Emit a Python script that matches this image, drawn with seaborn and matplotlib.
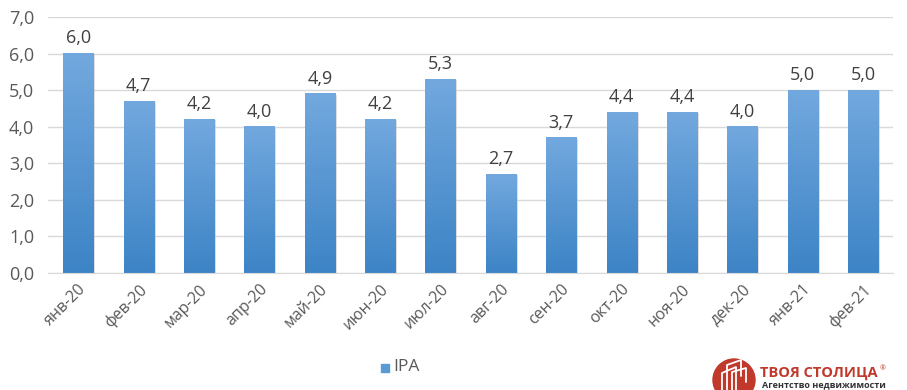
import numpy as np
import pandas as pd
import seaborn as sns
from matplotlib import pyplot as plt
from matplotlib.patches import Ellipse, Rectangle
from matplotlib.lines import Line2D
from matplotlib.colors import LinearSegmentedColormap

months = ['янв-20', 'фев-20', 'мар-20', 'апр-20', 'май-20', 'июн-20', 'июл-20',
          'авг-20', 'сен-20', 'окт-20', 'ноя-20', 'дек-20', 'янв-21', 'фев-21']
ipa = [6.0, 4.7, 4.2, 4.0, 4.9, 4.2, 5.3, 2.7, 3.7, 4.4, 4.4, 4.0, 5.0, 5.0]

sns.set_style('white')
plt.rcParams['font.family'] = ['Open Sans', 'DejaVu Sans']

df = pd.DataFrame({'month': months, 'IPA': ipa})

W, H = 907, 390
fig = plt.figure(figsize=(W / 100, H / 100), dpi=100)
ax = fig.add_axes([0.053, 0.300, 0.932, 0.656])

sns.barplot(data=df, x='month', y='IPA', ax=ax, color='#5b9bd5', width=0.5,
            saturation=1, zorder=2)

# gradient fill for each bar
grad = LinearSegmentedColormap.from_list('g', ['#3d84c6', '#72a8de'])
for p in ax.patches:
    x0, y0 = p.get_x(), p.get_y()
    w, h = p.get_width(), p.get_height()
    shadow = Rectangle((x0 + 0.03, y0), w, h - 0.02, color='#c8c8c8', alpha=0.6,
                       zorder=1.5, lw=0)
    ax.add_patch(shadow)
    ax.imshow(np.linspace(0, 1, 100).reshape(-1, 1), cmap=grad, aspect='auto',
              extent=(x0, x0 + w, y0, y0 + h), origin='lower', zorder=2.5)
    p.set_visible(False)

for i, v in enumerate(ipa):
    ax.text(i, v + 0.17, f'{v:.1f}'.replace('.', ','), ha='center', va='bottom',
            fontsize=13, color='#404040')

ax.set_xlim(-0.5, len(months) - 0.5)
ax.set_ylim(0, 7)
ax.set_yticks(np.arange(0, 8, 1))
ax.set_yticklabels([f'{t:.1f}'.replace('.', ',') for t in np.arange(0, 8, 1)],
                   fontsize=13, color='#595959')
ax.set_xticks(np.arange(len(months)))
ax.set_xticklabels(months, rotation=45, ha='right', rotation_mode='anchor',
                   fontsize=11.5, color='#595959')
ax.tick_params(axis='x', length=0, pad=6)
ax.tick_params(axis='y', length=0, pad=10)
ax.set_xticks(np.arange(-0.5, len(months), 1), minor=True)
ax.tick_params(axis='x', which='minor', length=5, color='#d9d9d9', direction='out')
ax.grid(axis='y', color='#d9d9d9', lw=1, zorder=0)
ax.set_axisbelow(True)
ax.set_xlabel('')
ax.set_ylabel('')
for s in ['top', 'right', 'left']:
    ax.spines[s].set_visible(False)
ax.spines['bottom'].set_color('#d9d9d9')

# legend
fig.patches.append(Rectangle((381 / W, 1 - 372 / H), 8 / W, 8 / H,
                             transform=fig.transFigure, color='#5b9bd5', figure=fig))
fig.text(393 / W, 1 - 367 / H, 'IPA', fontsize=12.5, color='#595959', va='center')

# logo
fig.patches.append(Ellipse((734 / W, 1 - 380 / H), 42 / W, 42 / H,
                           transform=fig.transFigure, color='#c0392b', figure=fig))
for xs, ys in [([722, 722, 736, 736], [390, 373, 367, 390]),
               ([727, 727, 741, 741], [390, 365, 360, 376]),
               ([732, 732, 746, 746], [390, 372, 368, 382])]:
    fig.lines.append(Line2D([x / W for x in xs], [1 - y / H for y in ys], color='white',
                            lw=1.3, transform=fig.transFigure, figure=fig))
fig.text(760 / W, 1 - 373 / H, 'ТВОЯ СТОЛИЦА', fontsize=10.5, fontweight='bold',
         color='#c0392b', va='center')
fig.text(880 / W, 1 - 369 / H, '®', fontsize=5, color='#c0392b', va='center')
fig.text(762 / W, 1 - 385 / H, 'Агентство недвижимости', fontsize=6.5,
         fontweight='bold', color='#333333', va='center')

fig.savefig('out.png', dpi=100)
